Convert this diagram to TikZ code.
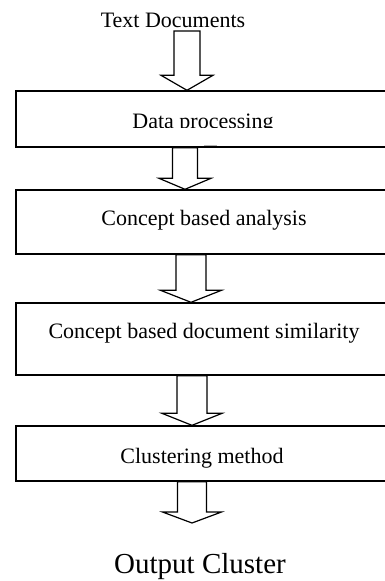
\documentclass[tikz,border=0pt]{standalone}
\usepackage{fontspec}
\setmainfont{Liberation Serif}
\usetikzlibrary{calc}

\tikzset{
  stagebox/.style={draw, line width=1.4pt, inner sep=0pt, minimum width=374pt},
  stagetext/.style={anchor=base, inner sep=0pt, font=\fontsize{22}{26}\selectfont},
  flowarrow/.style={draw, line width=1.2pt, line join=miter},
}

% block arrow: #1 start, #2 tip, #3 half shaft, #4 half head, #5 head length
\newcommand{\blockarrow}[5]{%
  \draw[flowarrow] ($(#1)+(-#3,0)$) -- ($(#2)+(-#3,-#5)$) -- ($(#2)+(-#4,-#5)$) -- (#2)
    -- ($(#2)+(#4,-#5)$) -- ($(#2)+(#3,-#5)$) -- ($(#1)+(#3,0)$) -- cycle;}

\begin{document}
\begin{tikzpicture}[x=1pt, y=-1pt]
  \useasboundingbox (0,0) rectangle (385,581);

  % stages (right side runs off the page)
  \node[stagebox, minimum height=56pt] (dp) at (203,119) {};
  \node[stagebox, minimum height=64pt] (ca) at (203,222) {};
  \node[stagebox, minimum height=72pt] (cs) at (203,339) {};
  \node[stagebox, minimum height=55pt] (cm) at (203,453.5) {};

  % texts
  \node[stagetext] (tdtext) at (173,27) {Text Documents};
  \begin{scope}
    \clip (16,91) rectangle (385,127);
    \node[stagetext] (dptext) at (203,128) {Data processing};
  \end{scope}
  \node[stagetext] (catext) at (204,225) {Concept based analysis};
  \node[stagetext] (cstext) at (204,338) {Concept based document similarity};
  \node[stagetext] (cmtext) at (202,463) {Clustering method};
  \node[stagetext, font=\fontsize{29}{33}\selectfont] (outtext) at (200,573) {Output Cluster};

  % arrow axes
  \coordinate (ax1) at (187,0);
  \coordinate (ax2) at (185,0);
  \coordinate (ax3) at (191,0);
  \coordinate (ax4) at (192,0);
  \coordinate (ax5) at (192,0);
  \coordinate (a1top) at (187,31);
  \coordinate (a5tip) at (192,523);

  \coordinate (dpn) at (dp.north -| ax1);
  \coordinate (dps) at (dp.south -| ax2);
  \coordinate (can) at (ca.north -| ax2);
  \coordinate (cas) at (ca.south -| ax3);
  \coordinate (csn) at (cs.north -| ax3);
  \coordinate (css) at (cs.south -| ax4);
  \coordinate (cmn) at (cm.north -| ax4);
  \coordinate (cms) at (cm.south -| ax5);

  \blockarrow{a1top}{dpn}{13}{26}{15}
  \blockarrow{dps}{can}{12.5}{26}{11}
  \blockarrow{cas}{csn}{15}{30.5}{12}
  \blockarrow{css}{cmn}{15}{30}{12}
  \blockarrow{cms}{a5tip}{14.5}{29.5}{11}

  % stray mark under the first box
  \draw[gray!60, line width=1.2pt] (204,145.5) -- (217,145.5);
\end{tikzpicture}
\end{document}
